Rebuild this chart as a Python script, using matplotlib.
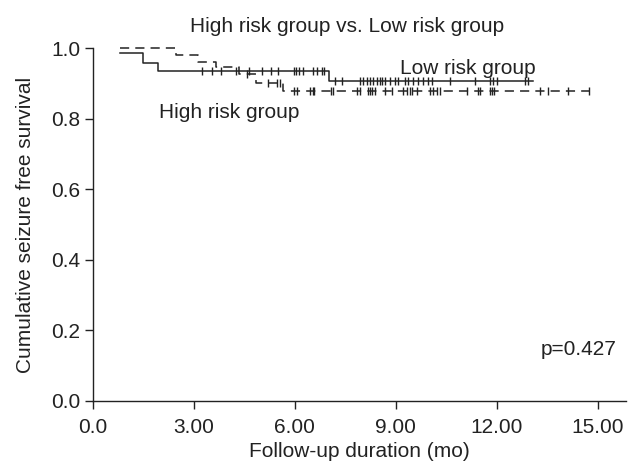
import matplotlib

matplotlib.use("Agg")
import matplotlib.pyplot as plt
import numpy as np

# Low risk group (solid): step times / survival after each step
low_times = [0.8, 1.49, 1.94, 7.02]
low_surv = [0.986, 0.958, 0.936, 0.906]
low_end = 13.09
low_censor = [3.25, 3.55, 3.82, 4.26, 4.65, 5.04, 5.28, 5.49, 5.99, 6.05, 6.14, 6.23,
              6.53, 6.65, 6.80, 6.86, 7.19, 7.40, 7.93, 8.02, 8.14, 8.23, 8.32, 8.44,
              8.53, 8.59, 8.68, 8.83, 8.98, 9.07, 9.28, 9.36, 9.51, 9.66, 9.81, 9.96,
              10.08, 10.62, 11.36, 11.81, 11.90, 12.02, 12.85, 12.94]

# High risk group (dashed)
high_times = [0.8, 2.48, 3.13, 3.67, 4.35, 4.86, 5.64]
high_surv = [1.0, 0.980, 0.961, 0.946, 0.926, 0.903, 0.879]
high_end = 14.79
high_censor = [4.59, 5.19, 5.46, 5.55, 5.99, 6.08, 6.44, 6.53, 6.56, 7.07, 7.13, 7.84,
               7.93, 8.17, 8.23, 8.29, 8.38, 8.68, 8.89, 9.22, 9.33, 9.42, 9.48, 9.63,
               10.02, 10.11, 10.23, 10.32, 11.12, 11.45, 11.51, 11.81, 11.87, 11.93,
               13.30, 13.54, 14.11, 14.76]

x_ticks = [0, 3, 6, 9, 12, 15]
x_tick_labels = ["0.0", "3.00", "6.00", "9.00", "12.00", "15.00"]
y_ticks = [0.0, 0.2, 0.4, 0.6, 0.8, 1.0]

plt.rcParams.update({
    "font.family": ["Liberation Sans", "DejaVu Sans"],
    "font.size": 15,
})

COLOR = "#222222"


def draw_km(ax, times, surv, end, censor, ls):
    xs = list(times) + [end]
    ys = list(surv) + [surv[-1]]
    ax.step(xs, ys, where="post", color=COLOR, lw=1.1, linestyle=ls, clip_on=False)
    idx = np.searchsorted(times, censor, side="right") - 1
    cy = [surv[i] for i in idx]
    ax.plot(censor, cy, linestyle="none", marker="|", ms=5.5, mew=1.0, color=COLOR,
            clip_on=False)


fig = plt.figure(figsize=(6.28, 4.69), dpi=100)
ax = fig.add_axes([0.148, 0.145, 0.849, 0.752])

draw_km(ax, low_times, low_surv, low_end, low_censor, "-")
draw_km(ax, high_times, high_surv, high_end, high_censor, (0, (6, 4)))

ax.set_xlim(0, 15.85)
ax.set_ylim(0, 1.0)
ax.set_xticks(x_ticks)
ax.set_xticklabels(x_tick_labels)
ax.set_yticks(y_ticks)
ax.set_yticklabels([f"{v:.1f}" for v in y_ticks])
for side in ("top", "right"):
    ax.spines[side].set_visible(False)
for side in ("left", "bottom"):
    ax.spines[side].set_color(COLOR)
    ax.spines[side].set_linewidth(1.0)
ax.tick_params(direction="out", length=6, width=1.0, pad=3, colors=COLOR, labelcolor=COLOR)
ax.tick_params(axis="x", pad=6)

fig.text(0.553, 0.932, "High risk group vs. Low risk group", ha="center", va="baseline",
         color=COLOR)
ax.set_xlabel("Follow-up duration (mo)", labelpad=4, color=COLOR)
ax.set_ylabel("Cumulative seizure free survival", labelpad=12, color=COLOR)

ax.text(9.14, 0.927, "Low risk group", va="baseline", ha="left", color=COLOR)
ax.text(1.97, 0.802, "High risk group", va="baseline", ha="left", color=COLOR)
ax.text(13.3, 0.130, "p=0.427", va="baseline", ha="left", color=COLOR)

fig.savefig("out.png", dpi=100)
